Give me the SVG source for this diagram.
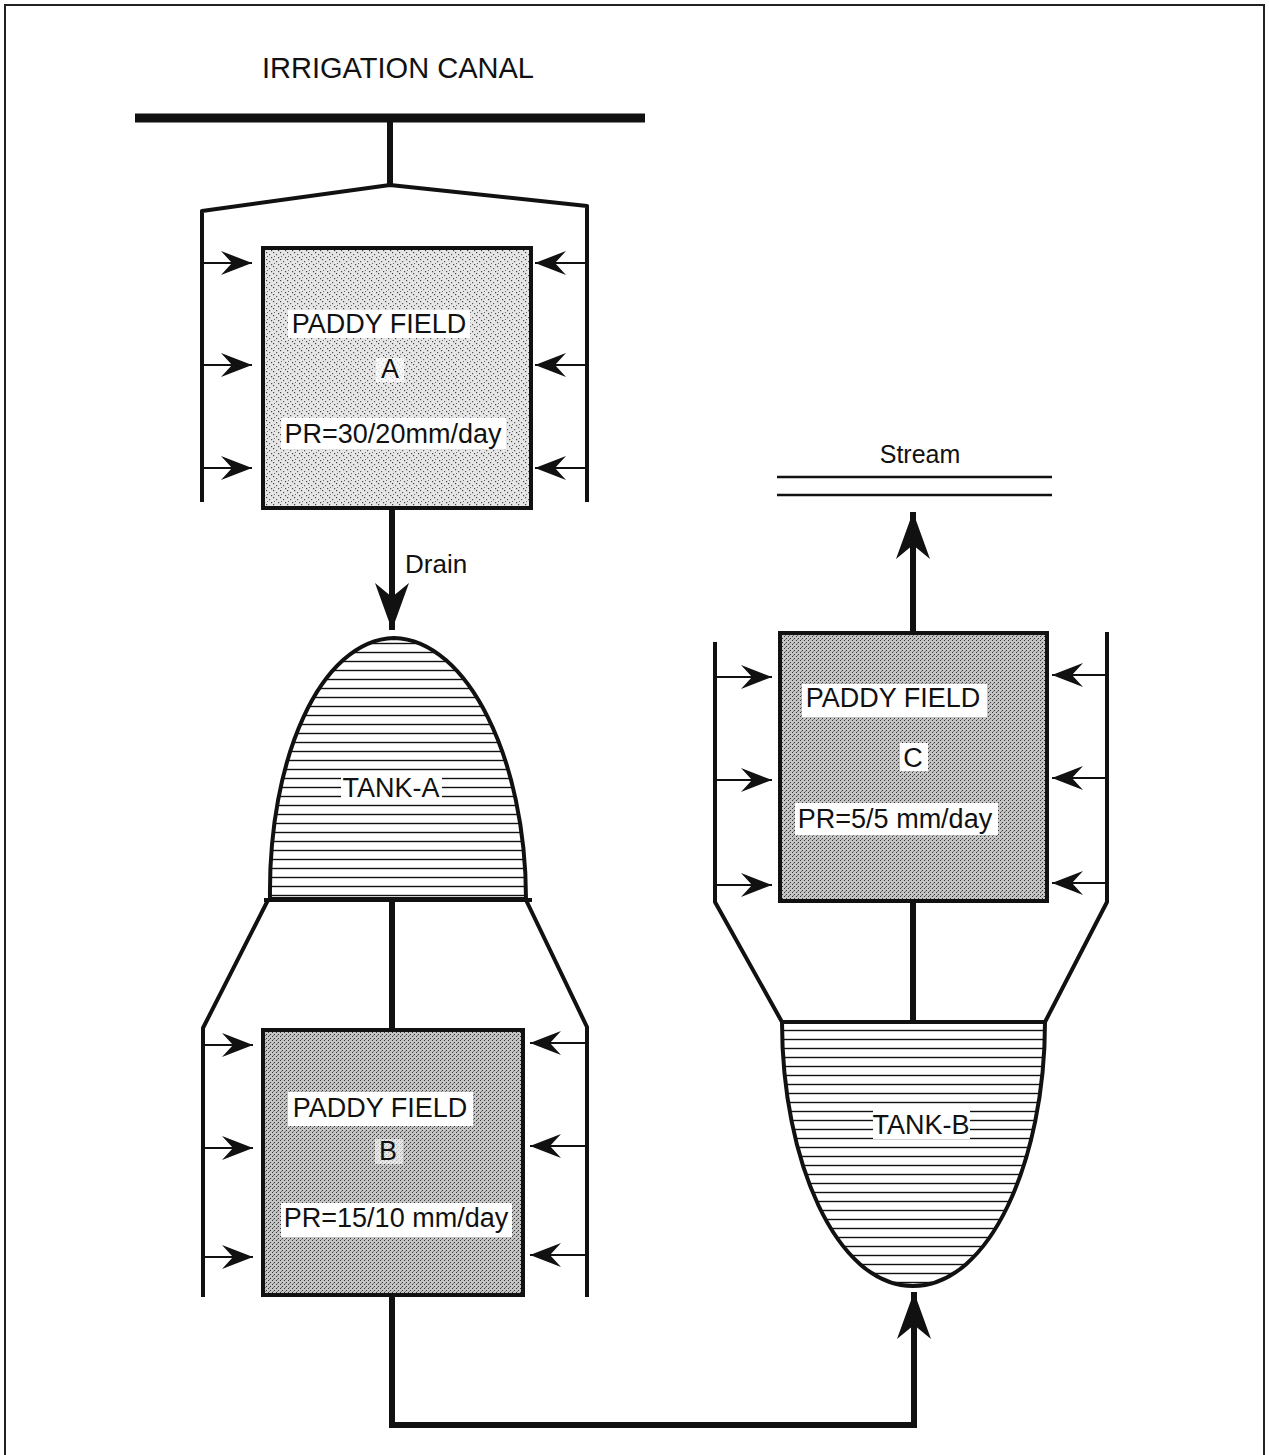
<svg xmlns="http://www.w3.org/2000/svg" width="1269" height="1455" viewBox="0 0 1269 1455">
<style>
  text { font-family: "Liberation Sans", Arial, sans-serif; fill: #111; }
  .lbl { font-size: 27px; text-anchor: middle; }
  .ln { fill: none; stroke: #111; stroke-width: 4; stroke-linejoin: round; }
  .thick { fill: none; stroke: #111; stroke-width: 6; }
  .shaft { fill: none; stroke: #111; stroke-width: 2.2; }
  .box { stroke: #111; stroke-width: 4; }
  .bg { fill: #fff; }
  .tank { stroke: #111; stroke-width: 4; fill: url(#hatch); }
</style>
<defs>
  <pattern id="stipA" width="7" height="7" patternUnits="userSpaceOnUse">
    <rect width="7" height="7" fill="#e6e6e6"/>
    <rect x="0" y="0" width="1.2" height="1.2" fill="#444"/>
    <rect x="3" y="2" width="1.2" height="1.2" fill="#555"/>
    <rect x="5" y="5" width="1.2" height="1.2" fill="#444"/>
    <rect x="1" y="4" width="1" height="1" fill="#666"/>
  </pattern>
  <pattern id="stipB" width="4" height="4" patternUnits="userSpaceOnUse">
    <rect width="4" height="4" fill="#c4c4c4"/>
    <rect x="0" y="0" width="1" height="1" fill="#333"/>
    <rect x="2" y="2" width="1" height="1" fill="#333"/>
    <rect x="1" y="3" width="1" height="1" fill="#777"/>
  </pattern>
  <pattern id="hatch" width="10" height="9" patternUnits="userSpaceOnUse">
    <rect width="10" height="9" fill="#fff"/>
    <line x1="0" y1="4.5" x2="10" y2="4.5" stroke="#111" stroke-width="1.4"/>
  </pattern>
  <marker id="ah" markerUnits="userSpaceOnUse" markerWidth="32" markerHeight="26" viewBox="0 0 32 26" refX="31" refY="13" orient="auto">
    <path d="M31 13 L0 1 L11 13 L0 25 Z" fill="#111"/>
  </marker>
  <marker id="ahBig" markerUnits="userSpaceOnUse" markerWidth="48" markerHeight="36" viewBox="0 0 48 36" refX="47" refY="18" orient="auto">
    <path d="M47 18 L0 1 L14 18 L0 35 Z" fill="#111"/>
  </marker>
</defs>

<rect width="1269" height="1455" fill="#fff"/>

<!-- frame -->
<path d="M5 1455 V5 H1264 V1455" fill="none" stroke="#222" stroke-width="2"/>

<!-- irrigation canal -->
<g id="canal">
  <text x="262" y="78" font-size="29" textLength="272" lengthAdjust="spacingAndGlyphs">IRRIGATION CANAL</text>
  <line x1="135" y1="118" x2="645" y2="118" stroke="#111" stroke-width="9"/>
</g>

<!-- stream -->
<g id="stream">
  <text x="920" y="463" font-size="25" text-anchor="middle">Stream</text>
  <line x1="777" y1="477" x2="1052" y2="477" stroke="#111" stroke-width="2.5"/>
  <line x1="777" y1="495" x2="1052" y2="495" stroke="#111" stroke-width="2.5"/>
</g>

<!-- connectors -->
<g id="connectors">
  <line class="thick" x1="390" y1="121" x2="390" y2="186" stroke-width="5"/>
  <path class="ln" d="M202 502 V211 L390 185 L587 206 V502"/>
  <line class="shaft" x1="202" y1="263" x2="252" y2="263" marker-end="url(#ah)"/>
  <line class="shaft" x1="202" y1="365" x2="252" y2="365" marker-end="url(#ah)"/>
  <line class="shaft" x1="202" y1="468" x2="252" y2="468" marker-end="url(#ah)"/>
  <line class="shaft" x1="587" y1="263" x2="535" y2="263" marker-end="url(#ah)"/>
  <line class="shaft" x1="587" y1="365" x2="535" y2="365" marker-end="url(#ah)"/>
  <line class="shaft" x1="587" y1="468" x2="535" y2="468" marker-end="url(#ah)"/>
  <line class="thick" x1="392" y1="508" x2="392" y2="630" marker-end="url(#ahBig)"/>
  <text x="405" y="573" font-size="26">Drain</text>
  <line class="thick" x1="392" y1="900" x2="392" y2="1030"/>
  <path class="ln" d="M268 900 L203 1028 V1297"/>
  <path class="ln" d="M526 900 L587 1027 V1297"/>
  <line class="shaft" x1="203" y1="1045" x2="253" y2="1045" marker-end="url(#ah)"/>
  <line class="shaft" x1="203" y1="1148" x2="253" y2="1148" marker-end="url(#ah)"/>
  <line class="shaft" x1="203" y1="1257" x2="253" y2="1257" marker-end="url(#ah)"/>
  <line class="shaft" x1="587" y1="1043" x2="530" y2="1043" marker-end="url(#ah)"/>
  <line class="shaft" x1="587" y1="1146" x2="530" y2="1146" marker-end="url(#ah)"/>
  <line class="shaft" x1="587" y1="1255" x2="530" y2="1255" marker-end="url(#ah)"/>
  <path class="thick" d="M392 1295 V1425 H914 V1292" marker-end="url(#ahBig)"/>
  <line class="thick" x1="913" y1="1022" x2="913" y2="900"/>
  <path class="ln" d="M782 1022 L715 902 V642"/>
  <path class="ln" d="M1045 1022 L1107 902 V632"/>
  <line class="shaft" x1="715" y1="677" x2="772" y2="677" marker-end="url(#ah)"/>
  <line class="shaft" x1="715" y1="780" x2="772" y2="780" marker-end="url(#ah)"/>
  <line class="shaft" x1="715" y1="885" x2="772" y2="885" marker-end="url(#ah)"/>
  <line class="shaft" x1="1107" y1="675" x2="1052" y2="675" marker-end="url(#ah)"/>
  <line class="shaft" x1="1107" y1="778" x2="1052" y2="778" marker-end="url(#ah)"/>
  <line class="shaft" x1="1107" y1="883" x2="1052" y2="883" marker-end="url(#ah)"/>
  <line class="thick" x1="913" y1="633" x2="913" y2="512" marker-end="url(#ahBig)"/>
</g>

<!-- paddy field A -->
<g id="paddy-a">
  <rect class="box" x="263" y="248" width="268" height="260" fill="url(#stipA)"/>
  <rect class="bg" x="288" y="310" width="182" height="28"/>
  <text class="lbl" x="379" y="333">PADDY FIELD</text>
  <rect class="bg" x="376" y="358" width="28" height="24" opacity="0.7"/>
  <text class="lbl" x="390" y="378" font-size="25">A</text>
  <rect class="bg" x="281" y="418" width="225" height="31"/>
  <text class="lbl" x="393" y="443">PR=30/20mm/day</text>
</g>

<!-- tank A -->
<g id="tank-a">
  <path class="tank" d="M270 899 C268 760 320 640 394 638 C468 640 526 760 526 899 Z"/>
  <line x1="264" y1="900" x2="532" y2="900" stroke="#111" stroke-width="4"/>
  <rect class="bg" x="341" y="773" width="101" height="28"/>
  <text class="lbl" x="391" y="797" font-size="26">TANK-A</text>
</g>

<!-- paddy field B -->
<g id="paddy-b">
  <rect class="box" x="263" y="1030" width="260" height="265" fill="url(#stipB)"/>
  <rect class="bg" x="288" y="1092" width="185" height="34"/>
  <text class="lbl" x="380" y="1117">PADDY FIELD</text>
  <rect class="bg" x="375" y="1139" width="28" height="25" opacity="0.6"/>
  <text class="lbl" x="388" y="1160" font-size="24">B</text>
  <rect class="bg" x="281" y="1203" width="231" height="34"/>
  <text class="lbl" x="396" y="1227">PR=15/10 mm/day</text>
</g>

<!-- paddy field C -->
<g id="paddy-c">
  <rect class="box" x="780" y="633" width="267" height="268" fill="url(#stipB)"/>
  <rect class="bg" x="802" y="684" width="185" height="33"/>
  <text class="lbl" x="893" y="707">PADDY FIELD</text>
  <rect class="bg" x="900" y="743" width="28" height="28"/>
  <text class="lbl" x="913" y="767" font-size="25">C</text>
  <rect class="bg" x="795" y="803" width="203" height="32"/>
  <text class="lbl" x="895" y="828">PR=5/5 mm/day</text>
</g>

<!-- tank B -->
<g id="tank-b">
  <path class="tank" d="M782 1022 L1045 1022 C1045 1160 990 1286 913 1286 C836 1286 782 1160 782 1022 Z"/>
  <rect class="bg" x="873" y="1109" width="97" height="30"/>
  <text class="lbl" x="921" y="1134" font-size="25">TANK-B</text>
</g>
</svg>
